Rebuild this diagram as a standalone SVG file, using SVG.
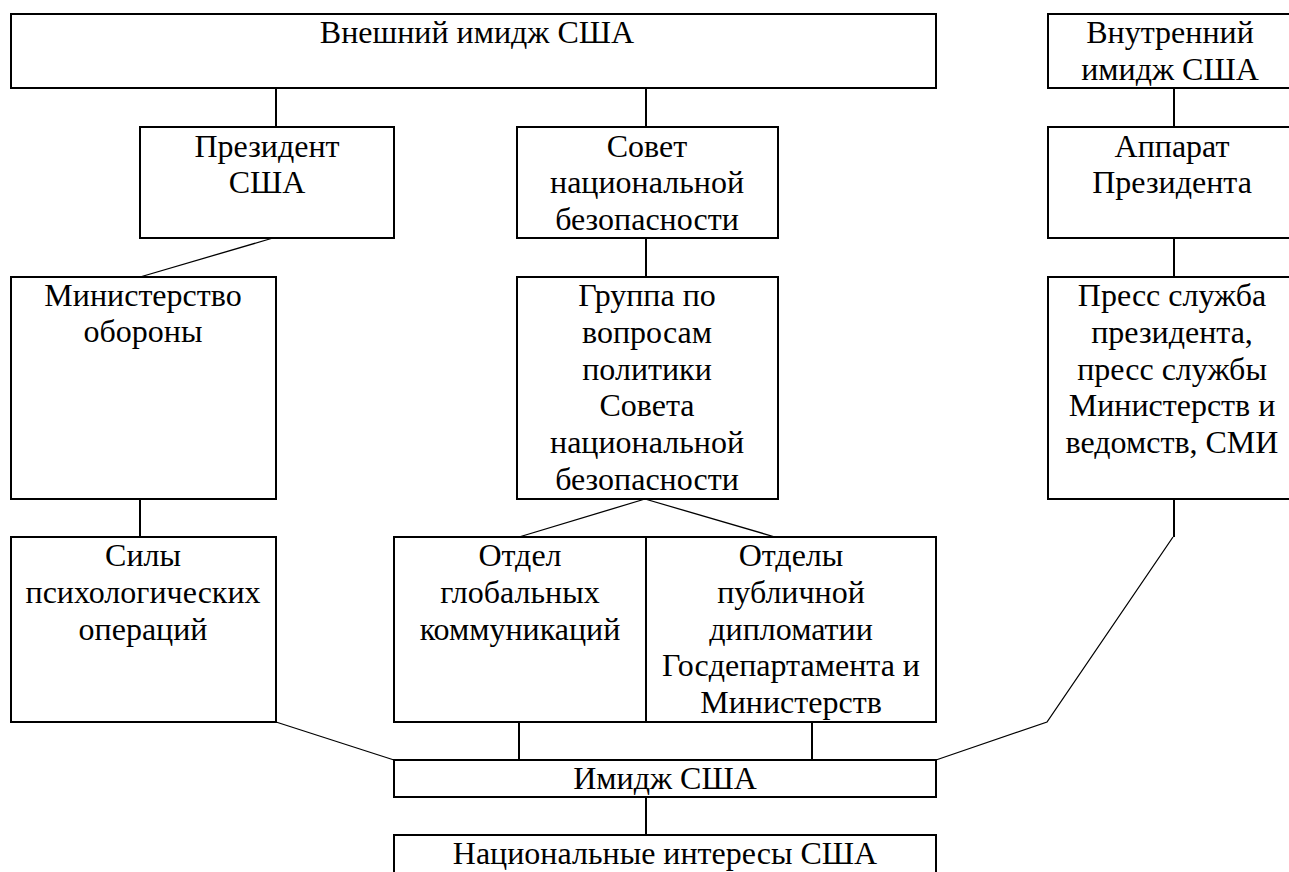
<svg xmlns="http://www.w3.org/2000/svg" width="1289" height="872" viewBox="0 0 1289 872">
<style>
.box{fill:#fff;stroke:#000;stroke-width:2}
.t{font-family:"Times New Roman","Liberation Serif","Noto Serif","DejaVu Serif",serif;font-size:32px;fill:#000;text-anchor:middle}
.c{stroke:#000;stroke-width:2;fill:none}
.d{stroke:#000;stroke-width:1.3;fill:none}
</style>
<rect width="1289" height="872" fill="#fff"/>
<g id="connectors">
<line class="c" x1="276" y1="88" x2="276" y2="127"/>
<line class="c" x1="646" y1="88" x2="646" y2="127"/>
<line class="c" x1="1174" y1="88" x2="1174" y2="127"/>
<line class="c" x1="1174" y1="238" x2="1174" y2="277"/>
<line class="d" x1="273" y1="238" x2="140" y2="277"/>
<line class="c" x1="646" y1="238" x2="646" y2="277"/>
<line class="c" x1="140" y1="499" x2="140" y2="537"/>
<line class="d" x1="645" y1="499" x2="519" y2="537"/>
<line class="d" x1="645" y1="499" x2="775" y2="537"/>
<line class="c" x1="1174" y1="499" x2="1174" y2="537"/>
<polyline class="d" points="1173,537 1047,722 936,760"/>
<line class="d" x1="276" y1="722" x2="394" y2="760"/>
<line class="c" x1="519" y1="722" x2="519" y2="760"/>
<line class="c" x1="812" y1="722" x2="812" y2="760"/>
<line class="c" x1="646" y1="797" x2="646" y2="835"/>
</g>
<g id="n-external">
<rect class="box" x="11" y="14" width="925" height="74"/>
<text class="t" x="477" y="43">Внешний имидж США</text>
</g>
<g id="n-internal">
<rect class="box" x="1048" y="14" width="250" height="74"/>
<text class="t" x="1170" y="43">Внутренний</text>
<text class="t" x="1170" y="80">имидж США</text>
</g>
<g id="n-president">
<rect class="box" x="140" y="127" width="254" height="111"/>
<text class="t" x="267" y="157">Президент</text>
<text class="t" x="267" y="193">США</text>
</g>
<g id="n-council">
<rect class="box" x="517" y="127" width="261" height="111"/>
<text class="t" x="647" y="157">Совет</text>
<text class="t" x="647" y="193">национальной</text>
<text class="t" x="647" y="230">безопасности</text>
</g>
<g id="n-apparatus">
<rect class="box" x="1048" y="127" width="250" height="111"/>
<text class="t" x="1172" y="157">Аппарат</text>
<text class="t" x="1172" y="193">Президента</text>
</g>
<g id="n-defense">
<rect class="box" x="11" y="277" width="265" height="222"/>
<text class="t" x="143" y="306">Министерство</text>
<text class="t" x="143" y="342">обороны</text>
</g>
<g id="n-group">
<rect class="box" x="517" y="277" width="261" height="222"/>
<text class="t" x="647" y="306">Группа по</text>
<text class="t" x="647" y="343">вопросам</text>
<text class="t" x="647" y="380">политики</text>
<text class="t" x="647" y="416">Совета</text>
<text class="t" x="647" y="453">национальной</text>
<text class="t" x="647" y="490">безопасности</text>
</g>
<g id="n-press">
<rect class="box" x="1048" y="277" width="250" height="222"/>
<text class="t" x="1172" y="306">Пресс служба</text>
<text class="t" x="1172" y="343">президента,</text>
<text class="t" x="1172" y="380">пресс службы</text>
<text class="t" x="1172" y="416">Министерств и</text>
<text class="t" x="1172" y="453">ведомств, СМИ</text>
</g>
<g id="n-psyops">
<rect class="box" x="11" y="537" width="265" height="185"/>
<text class="t" x="143" y="566">Силы</text>
<text class="t" x="143" y="603">психологических</text>
<text class="t" x="143" y="640">операций</text>
</g>
<g id="n-global">
<rect class="box" x="394" y="537" width="252" height="185"/>
<text class="t" x="520" y="566">Отдел</text>
<text class="t" x="520" y="603">глобальных</text>
<text class="t" x="520" y="640">коммуникаций</text>
</g>
<g id="n-public">
<rect class="box" x="646" y="537" width="290" height="185"/>
<text class="t" x="791" y="566">Отделы</text>
<text class="t" x="791" y="603">публичной</text>
<text class="t" x="791" y="640">дипломатии</text>
<text class="t" x="791" y="676">Госдепартамента и</text>
<text class="t" x="791" y="713">Министерств</text>
</g>
<g id="n-image">
<rect class="box" x="394" y="760" width="542" height="37"/>
<text class="t" x="665" y="789">Имидж США</text>
</g>
<g id="n-national">
<rect class="box" x="394" y="835" width="542" height="60"/>
<text class="t" x="665" y="864">Национальные интересы США</text>
</g>
</svg>
